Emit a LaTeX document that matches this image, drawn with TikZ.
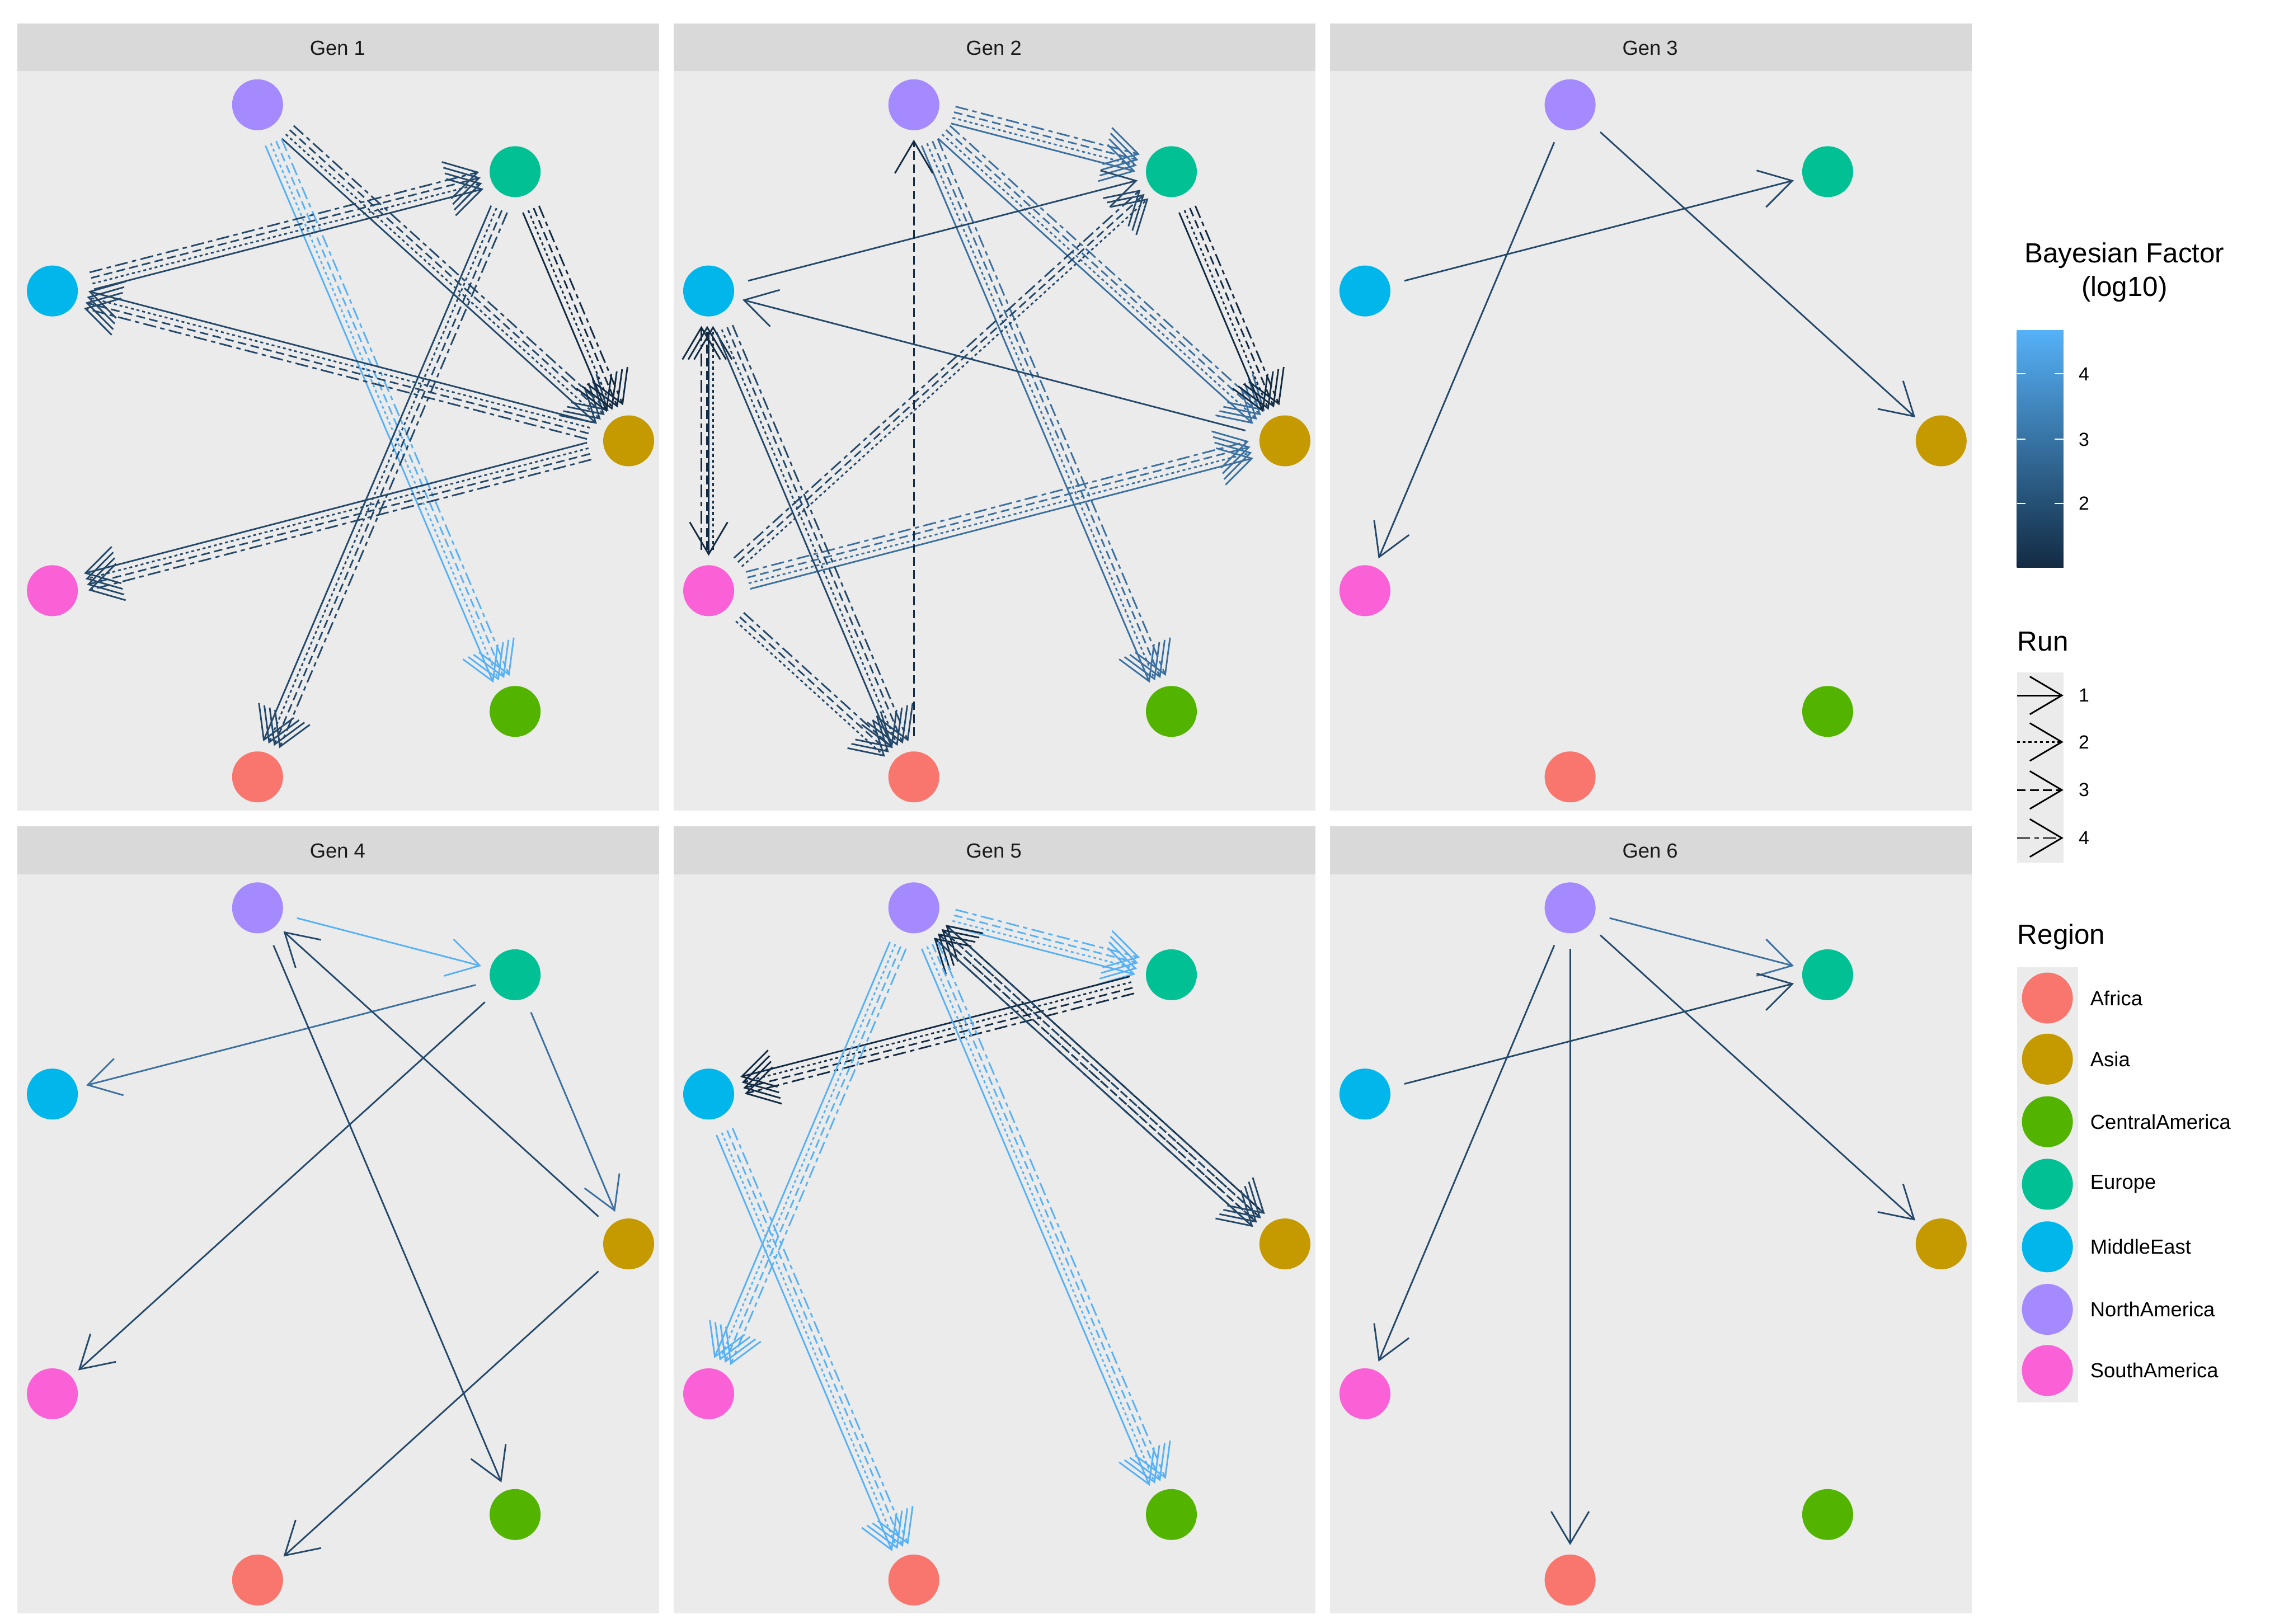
\documentclass[tikz,border=0pt]{standalone}
\usepackage{fontspec}
\setmainfont{Liberation Sans}
\usetikzlibrary{calc,arrows.meta}
\definecolor{bfa}{HTML}{132B43}
\definecolor{bfb}{HTML}{24486A}
\definecolor{bfc}{HTML}{3A6FA0}
\definecolor{bfd}{HTML}{56B1F7}
\definecolor{cAF}{HTML}{F8766D}
\definecolor{cAS}{HTML}{C49A00}
\definecolor{cCA}{HTML}{53B400}
\definecolor{cEU}{HTML}{00C094}
\definecolor{cME}{HTML}{00B6EB}
\definecolor{cNA}{HTML}{A58AFF}
\definecolor{cSA}{HTML}{FB61D7}
\tikzset{
  panel/.style={fill=black!8},
  strip/.style={fill=black!15},
  reg/.style={circle,fill=#1,minimum size=35pt,inner sep=0pt},
  bf/.style={draw=#1,line width=1.1pt,-{Straight Barb[length=22pt,width=26pt,line width=1.1pt]},shorten <=28pt,shorten >=24pt},
  run1/.style={solid},
  run2/.style={dash pattern=on 2pt off 2pt},
  run3/.style={dash pattern=on 6pt off 3pt},
  run4/.style={dash pattern=on 9pt off 3pt on 3pt off 3pt},
}
% edge with one line per run, offset sideways
\newcommand{\flow}[4]{%
  \foreach \r/\o in #4
    \draw[bf=#1,run\r] ($(#2)!\o pt!90:(#3)$) -- ($(#3)!\o pt!-90:(#2)$);}
\def\allruns{1/-6,2/-2,3/2,4/6}
\def\dashruns{2/-3,3/1,4/5}
\def\oneruns{1/0}
\begin{document}
\begin{tikzpicture}[x=1pt,y=-1pt]
  \useasboundingbox (0,0) rectangle (1560,1116);
  % panels
  \foreach \p/\dx/\dy in {1/0/0,2/451/0,3/902/0,4/0/552,5/451/552,6/902/552}{
    \fill[panel] (12+\dx,49+\dy) rectangle (453+\dx,557+\dy);
    \fill[strip] (12+\dx,16+\dy) rectangle (453+\dx,49+\dy);
    \node[font=\fontsize{14}{16}\selectfont,text=black!90] (s\p) at (232+\dx,33+\dy) {Gen \p};
    \foreach \n/\x/\y in {AF/177/534,AS/432/303,CA/354/489,EU/354/118,ME/36/200,NA/177/72,SA/36/406}
      \node[reg=c\n] (g\p\n) at (\x+\dx,\y+\dy) {};
  }
  % Gen 1
  \flow{bfb}{g1NA}{g1AS}{\allruns}
  \flow{bfd}{g1NA}{g1CA}{\allruns}
  \flow{bfb}{g1ME}{g1EU}{\allruns}
  \flow{bfb}{g1AS}{g1ME}{\allruns}
  \flow{bfa}{g1EU}{g1AS}{\allruns}
  \flow{bfb}{g1EU}{g1AF}{\allruns}
  \flow{bfb}{g1AS}{g1SA}{\allruns}
  % Gen 2
  \flow{bfc}{g2NA}{g2EU}{\allruns}
  \flow{bfc}{g2NA}{g2AS}{\allruns}
  \flow{bfc}{g2NA}{g2CA}{\allruns}
  \flow{bfb}{g2AS}{g2ME}{\oneruns}
  \flow{bfb}{g2ME}{g2EU}{\oneruns}
  \flow{bfa}{g2EU}{g2AS}{\allruns}
  \flow{bfb}{g2SA}{g2EU}{\dashruns}
  \flow{bfc}{g2SA}{g2AS}{\allruns}
  \flow{bfa}{g2ME}{g2SA}{\oneruns}
  \flow{bfa}{g2SA}{g2ME}{\dashruns}
  \flow{bfb}{g2ME}{g2AF}{\allruns}
  \flow{bfb}{g2SA}{g2AF}{\dashruns}
  \flow{bfa}{g2AF}{g2NA}{{3/0}}
  % Gen 3
  \flow{bfb}{g3NA}{g3SA}{\oneruns}
  \flow{bfb}{g3NA}{g3AS}{\oneruns}
  \flow{bfb}{g3ME}{g3EU}{\oneruns}
  % Gen 4
  \flow{bfd}{g4NA}{g4EU}{\oneruns}
  \flow{bfc}{g4EU}{g4ME}{\oneruns}
  \flow{bfb}{g4EU}{g4SA}{\oneruns}
  \flow{bfc}{g4EU}{g4AS}{\oneruns}
  \flow{bfb}{g4AS}{g4NA}{\oneruns}
  \flow{bfb}{g4NA}{g4CA}{\oneruns}
  \flow{bfb}{g4AS}{g4AF}{\oneruns}
  % Gen 5
  \flow{bfd}{g5NA}{g5EU}{\allruns}
  \flow{bfa}{g5EU}{g5ME}{\allruns}
  \flow{bfd}{g5NA}{g5SA}{\allruns}
  \flow{bfa}{g5AS}{g5NA}{\allruns}
  \flow{bfb}{g5NA}{g5AS}{\allruns}
  \flow{bfd}{g5NA}{g5CA}{\allruns}
  \flow{bfd}{g5ME}{g5AF}{\allruns}
  % Gen 6
  \flow{bfc}{g6NA}{g6EU}{\oneruns}
  \flow{bfb}{g6ME}{g6EU}{\oneruns}
  \flow{bfb}{g6NA}{g6SA}{\oneruns}
  \flow{bfb}{g6NA}{g6AS}{\oneruns}
  \flow{bfb}{g6NA}{g6AF}{\oneruns}
  % legend: Bayesian factor
  \node[font=\fontsize{19}{23}\selectfont,align=center] (bftitle) at (1460,187) {Bayesian Factor\\(log10)};
  \shade[top color=bfd,bottom color=bfa] (1386,227) rectangle (1418,390);
  \foreach \t/\y in {4/257,3/302,2/346}{
    \draw[white,line width=0.8pt] (1386,\y) -- (1392,\y) (1412,\y) -- (1418,\y);
    \node[font=\fontsize{13}{15}\selectfont,anchor=west] (bf\t) at (1425,\y) {\t};
  }
  % legend: run
  \node[font=\fontsize{19}{23}\selectfont,anchor=west] (runtitle) at (1383,441) {Run};
  \fill[panel] (1386,462) rectangle (1418,593);
  \foreach \r/\y in {1/478,2/510,3/543,4/576}{
    \coordinate (k\r a) at (1386,\y);
    \coordinate (k\r b) at (1418,\y);
    \draw[draw=black,line width=1.1pt,run\r,-{Straight Barb[length=22pt,width=26pt,line width=1.1pt]}] (k\r a) -- (k\r b);
    \node[font=\fontsize{13}{15}\selectfont,anchor=west] (rl\r) at (1425,\y) {\r};
  }
  % legend: region
  \node[font=\fontsize{19}{23}\selectfont,anchor=west] (regtitle) at (1383,644) {Region};
  \fill[panel] (1386,665) rectangle (1428,964);
  \foreach \c/\t/\y in {AF/Africa/686,AS/Asia/728,CA/CentralAmerica/771,EU/Europe/814,ME/MiddleEast/857,NA/NorthAmerica/900,SA/SouthAmerica/942}{
    \node[reg=c\c] (key\c) at (1407,\y) {};
    \node[font=\fontsize{14}{16}\selectfont,anchor=west] (lab\c) at (1433,\y) {\t};
  }
\end{tikzpicture}
\end{document}
